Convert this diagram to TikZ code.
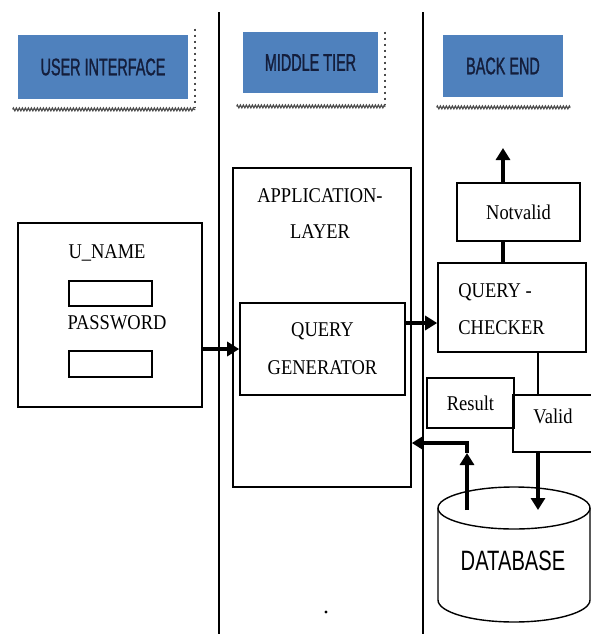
\documentclass[tikz,border=0pt]{standalone}
\usepackage{fontspec}
\usepackage{xcolor}
\usepackage{tikz}
\usetikzlibrary{arrows.meta,positioning,decorations.pathmorphing}
\newfontfamily\headfont[FakeStretch=0.6,FakeBold=1.2]{Liberation Sans}
\newfontfamily\bodyfont[FakeStretch=0.88]{Liberation Serif}
\newfontfamily\dbfont[FakeStretch=0.72]{Liberation Sans}
\definecolor{headblue}{HTML}{4F81BD}
\definecolor{headtext}{HTML}{141E3C}

\begin{document}
\begin{tikzpicture}[x=0.5pt,y=-0.5pt,
	headbox/.style={fill=headblue,inner sep=0pt,text=headtext,font=\headfont\fontsize{12}{12}\selectfont},
	shadedge/.style={dotted,line width=1pt,black!70},
	shadwave/.style={decorate,decoration={zigzag,segment length=1.5pt,amplitude=0.7pt},line width=0.6pt,black!70},
	box/.style={draw,line width=0.8pt,inner sep=0pt},
	txt/.style={inner sep=0pt,font=\bodyfont\fontsize{10.5}{18}\selectfont},
	arr/.style={line width=2pt,-{Triangle[length=6pt,width=7pt]}},
	conn/.style={line width=2pt}]
	\useasboundingbox (0,0) rectangle (591,634);
	\clip (0,0) rectangle (591,634);
	% tier separators
	\coordinate (sepa) at (219,12);
	\coordinate (sepb) at (423,12);
	\draw[line width=1pt] (sepa) -- (sepa |- 0,634);
	\draw[line width=1pt] (sepb) -- (sepb |- 0,634);
	% headings
	\node[headbox,minimum width=85pt,minimum height=32pt] (uihead) at (103,67) {USER INTERFACE};
	\node[headbox,minimum width=67.5pt,minimum height=30.5pt] (mthead) at (310.5,62.5) {MIDDLE TIER};
	\node[headbox,minimum width=60pt,minimum height=31pt] (behead) at (503,66) {BACK END};
	\draw[shadedge] ([xshift=3.5pt,yshift=3pt]uihead.north east) -- ([xshift=3.5pt,yshift=-4.5pt]uihead.south east);
	\draw[shadwave] ([xshift=-2.5pt,yshift=-5pt]uihead.south west) -- ([xshift=3.5pt,yshift=-5pt]uihead.south east);
	\draw[shadedge] ([xshift=3.5pt,yshift=0pt]mthead.north east) -- ([xshift=3.5pt,yshift=-6pt]mthead.south east);
	\draw[shadwave] ([xshift=-3pt,yshift=-6.5pt]mthead.south west) -- ([xshift=3.5pt,yshift=-6.5pt]mthead.south east);
	\draw[shadwave] ([xshift=-3pt,yshift=-5pt]behead.south west) -- ([xshift=3.5pt,yshift=-5pt]behead.south east);
	% user interface
	\node[box,minimum width=92pt,minimum height=92pt] (ui) at (110,315) {};
	\node[txt] (uname) at (107,253) {U\_NAME};
	\node[box,minimum width=41.5pt,minimum height=12.5pt] (unamebox) at (110.5,293.5) {};
	\node[txt] (pwd) at (117,323) {PASSWORD};
	\node[box,minimum width=41.5pt,minimum height=13pt] (pwdbox) at (110.5,364) {};
	% middle tier
	\node[box,minimum width=89pt,minimum height=159.5pt] (app) at (322,327.5) {};
	\node[txt,align=center] (apptitle) at (320,214) {APPLICATION-\\LAYER};
	\node[box,minimum width=82.5pt,minimum height=46pt,txt,align=center,font=\bodyfont\fontsize{10.5}{19}\selectfont] (qg) at (322.5,349) {QUERY\\GENERATOR};
	% back end
	\node[box,minimum width=74pt,minimum height=44.5pt] (qc) at (512,307.5) {};
	\node[txt,align=left,anchor=west,font=\bodyfont\fontsize{10.5}{18.5}\selectfont] (qctxt) at (458,309) {QUERY -\\CHECKER};
	\node[box,minimum width=61.5pt,minimum height=29pt,txt] (notvalid) at (518.5,212) {Notvalid};
	\node[box,minimum width=43.5pt,minimum height=25pt,txt] (result) at (470.5,403) {Result};
	\node[box,minimum width=47pt,minimum height=28.5pt] (valid) at (560,423.5) {};
	\node[txt] (validtxt) at (553,416) {Valid};
	% database
	\draw[line width=0.7pt] (438,508) -- (438,600) arc[start angle=180,end angle=360,x radius=38pt,y radius=11pt] -- (590,508);
	\draw[line width=0.7pt] (514,508) ellipse [x radius=38pt,y radius=10.5pt];
	\node[inner sep=0pt,font=\dbfont\fontsize{14}{14}\selectfont] (db) at (513,561) {DATABASE};
	\coordinate (dbin) at (538,510);
	\coordinate (dbout) at (467,510);
	\coordinate (resup) at (467,453);
	\coordinate (nvout) at (503,148);
	% connectors
	\draw[arr] (ui.east |- qg.west) -- (qg.west);
	\draw[arr] ([yshift=13pt]qg.east) -- ([yshift=13pt]qg.east -| qc.west);
	\draw[conn] ([xshift=-7.75pt]notvalid.south) -- ([xshift=-7.75pt]notvalid.south |- qc.north);
	\draw[arr] ([xshift=-7.75pt]notvalid.north) -- (nvout);
	\draw[line width=1pt] ([xshift=13pt]qc.south) -- ([xshift=13pt]qc.south |- valid.north);
	\draw[arr] (dbin |- valid.south) -- (dbin);
	\draw[arr] (dbout) -- (resup);
	\draw[arr] (resup) |- ([yshift=-57.75pt]app.east);
	\fill (326,612) circle (0.8pt);
\end{tikzpicture}
\end{document}
